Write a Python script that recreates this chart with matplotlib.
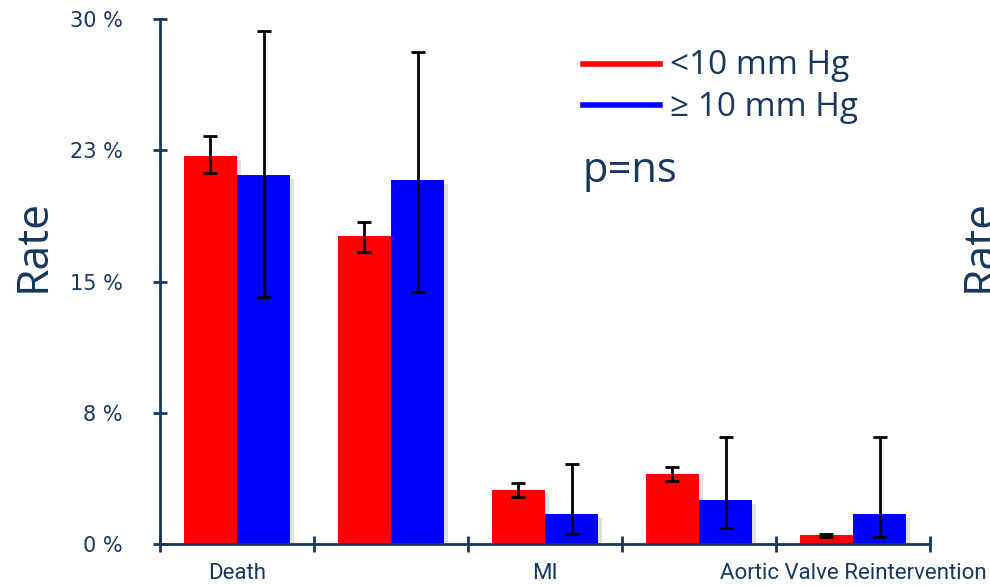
import matplotlib
matplotlib.use("Agg")
import matplotlib.pyplot as plt
import numpy as np
from matplotlib.lines import Line2D
import matplotlib.patheffects as pe

categories = ["Death", "", "MI", "", "Aortic Valve Reintervention"]
low_vals = [22.2, 17.6, 3.1, 4.0, 0.5]
low_err_lo = [21.2, 16.7, 2.7, 3.6, 0.4]
low_err_hi = [23.3, 18.4, 3.5, 4.4, 0.6]
high_vals = [21.1, 20.8, 1.7, 2.5, 1.7]
high_err_lo = [14.1, 14.4, 0.6, 0.9, 0.4]
high_err_hi = [29.3, 28.1, 4.6, 6.1, 6.1]
yticks = [0, 7.5, 15, 22.5, 30]
ytick_labels = ["0 %", "8 %", "15 %", "23 %", "30 %"]
legend_labels = ["<10 mm Hg", "\u2265 10 mm Hg"]

navy = "#17375E"
red = "#FF0000"
blue = "#0000FF"

plt.rcParams['font.family'] = ['Open Sans', 'DejaVu Sans']

fig = plt.figure(figsize=(9.9, 5.87), dpi=100)
ax = fig.add_axes([160/990, 43/587, 770/990, 525/587])

x = np.arange(len(categories))
w = 0.345
shadow = [pe.SimplePatchShadow(offset=(3, -3), shadow_rgbFace='#000000', alpha=0.12), pe.Normal()]
b1 = ax.bar(x - w/2, low_vals, w, color=red, zorder=2)
b2 = ax.bar(x + w/2, high_vals, w, color=blue, zorder=2)
for b in list(b1) + list(b2):
    b.set_path_effects(shadow)

lv = np.array(low_vals); hv = np.array(high_vals)
ax.errorbar(x - w/2, lv, yerr=[lv - np.array(low_err_lo), np.array(low_err_hi) - lv],
            fmt='none', ecolor='black', elinewidth=2, capsize=4.8, capthick=2, zorder=3)
ax.errorbar(x + w/2, hv, yerr=[hv - np.array(high_err_lo), np.array(high_err_hi) - hv],
            fmt='none', ecolor='black', elinewidth=2, capsize=4.8, capthick=2, zorder=3)

ax.set_xlim(-0.5, len(categories) - 0.5)
ax.set_ylim(0, 30)
for s in ['top', 'right']:
    ax.spines[s].set_visible(False)
for s in ['left', 'bottom']:
    ax.spines[s].set_color(navy)
    ax.spines[s].set_linewidth(2)

ax.set_yticks(yticks)
ax.set_yticklabels(ytick_labels, fontsize=15, color=navy, family=['DejaVu Sans'])
ax.tick_params(axis='y', direction='inout', length=10, width=2, color=navy, pad=22)

ax.set_xticks(np.arange(-0.5, len(categories)), minor=False)
ax.set_xticklabels([])
ax.tick_params(axis='x', which='major', direction='inout', length=12, width=2, color=navy)
ax.set_xticks(x, minor=True)
ax.set_xticklabels(categories, minor=True, fontsize=16, color=navy, family=['Roboto', 'DejaVu Sans'])
ax.tick_params(axis='x', which='minor', length=0, pad=14)

ax.set_ylabel("Rate", fontsize=32, color=navy)
ax.yaxis.set_label_coords(-0.135, (544 - 245) / 525)

# legend
fig.add_artist(Line2D([583/990, 660/990], [1 - 64/587, 1 - 64/587], transform=fig.transFigure, color=red, lw=4))
fig.add_artist(Line2D([583/990, 660/990], [1 - 105/587, 1 - 105/587], transform=fig.transFigure, color=blue, lw=4))
fig.text(670/990, 1 - 66/587, legend_labels[0], fontsize=24, color=navy, va='center', ha='left')
fig.text(670/990, 1 - 107/587, legend_labels[1], fontsize=24, color=navy, va='center', ha='left')
fig.text(582/990, 1 - 171/587, "p=ns", fontsize=30, color=navy, va='center', ha='left')

# partial label of adjacent chart (cut off at the edge, as in the source)
fig.text(980/990, 1 - 245/587, "Rate", fontsize=32, color=navy, rotation=90, va='center', ha='center')

fig.savefig("out.png", dpi=100)
